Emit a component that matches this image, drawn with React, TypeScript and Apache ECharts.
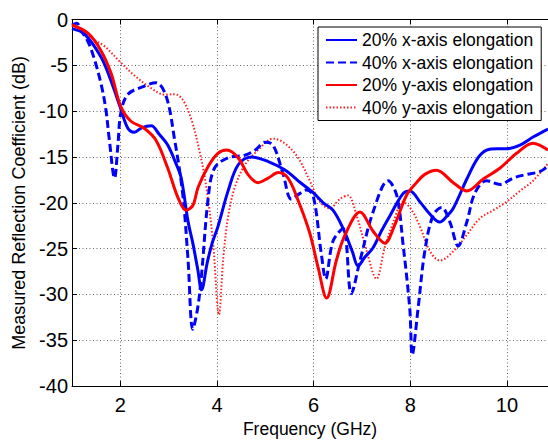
import React, { useEffect, useRef } from "react";
import * as echarts from "echarts";

const xTicks = [2, 4, 6, 8, 10];
const legendNames = [
  "20% x-axis elongation",
  "40% x-axis elongation",
  "20% y-axis elongation",
  "40% y-axis elongation",
];

const fA = [1.0, 1.26, 1.6, 1.8, 2.0, 2.15, 2.29, 2.45, 2.64, 2.8, 2.98, 3.15, 3.26, 3.4, 3.5, 3.6, 3.68, 3.8, 3.9, 4.02, 4.23, 4.44, 4.71, 5.06, 5.4, 5.68, 5.99, 6.2, 6.4, 6.61, 6.8, 6.92, 7.05, 7.23, 7.4, 7.58, 7.85, 7.99, 8.2, 8.4, 8.61, 8.75, 8.89, 9.17, 9.4, 9.58, 9.8, 9.99, 10.27, 10.55, 10.85];
const vA = [-1.0, -1.6, -4.1, -6.6, -9.6, -11.8, -12.3, -11.8, -11.6, -12.5, -13.7, -15.7, -17.3, -22.0, -24.4, -27.2, -29.5, -26.5, -24.4, -22.6, -18.7, -15.85, -15.0, -15.5, -16.4, -17.6, -18.9, -20.0, -20.8, -22.8, -25.3, -26.9, -26.0, -24.9, -23.1, -21.4, -19.0, -18.7, -19.9, -21.2, -22.1, -21.5, -20.6, -17.4, -15.1, -14.25, -14.1, -14.1, -13.7, -12.8, -11.95];

const fB = [1.0, 1.1, 1.2, 1.33, 1.45, 1.6, 1.7, 1.77, 1.88, 1.95, 2.01, 2.15, 2.43, 2.74, 2.95, 3.12, 3.29, 3.4, 3.5, 3.6, 3.68, 3.82, 3.95, 4.23, 4.58, 4.8, 4.99, 5.16, 5.37, 5.54, 5.71, 5.85, 5.99, 6.16, 6.25, 6.4, 6.61, 6.78, 6.96, 7.23, 7.54, 7.72, 7.85, 7.99, 8.04, 8.16, 8.3, 8.47, 8.65, 8.82, 8.99, 9.17, 9.34, 9.58, 9.86, 10.13, 10.41, 10.68, 10.85];
const vB = [-0.6, -0.4, -1.3, -2.4, -4.1, -7.0, -9.8, -13.0, -17.3, -13.7, -10.2, -8.2, -7.4, -6.9, -8.4, -13.0, -19.0, -26.1, -33.8, -31.5, -27.9, -19.4, -16.2, -15.1, -14.8, -14.2, -13.4, -13.7, -16.9, -19.6, -19.0, -18.6, -19.2, -25.6, -28.3, -24.2, -22.8, -29.9, -26.3, -21.0, -17.6, -19.2, -24.5, -31.6, -36.6, -31.6, -25.3, -21.4, -20.5, -22.1, -24.7, -22.1, -18.9, -17.6, -18.0, -17.3, -16.9, -16.6, -16.0];

const fC = [1.0, 1.33, 1.6, 1.81, 2.01, 2.22, 2.5, 2.74, 2.98, 3.19, 3.36, 3.5, 3.61, 3.82, 4.02, 4.2, 4.44, 4.64, 4.85, 5.06, 5.27, 5.47, 5.68, 5.92, 6.09, 6.27, 6.47, 6.65, 6.96, 7.23, 7.47, 7.68, 7.92, 8.13, 8.3, 8.54, 8.89, 9.17, 9.51, 9.86, 10.2, 10.54, 10.85];
const vC = [-0.6, -1.5, -3.4, -5.9, -9.5, -11.1, -11.9, -13.2, -16.2, -19.4, -20.8, -20.3, -18.3, -16.0, -14.6, -14.25, -15.1, -16.9, -17.8, -17.3, -16.7, -17.3, -19.75, -23.3, -27.0, -30.4, -26.3, -23.5, -21.0, -23.1, -24.4, -22.4, -19.2, -17.8, -16.9, -16.45, -17.8, -18.7, -17.4, -16.2, -14.6, -13.5, -14.25];

const fD = [1.0, 1.2, 1.45, 1.67, 2.01, 2.29, 2.64, 2.91, 3.12, 3.29, 3.47, 3.64, 3.78, 3.92, 4.04, 4.13, 4.23, 4.37, 4.58, 4.85, 5.16, 5.4, 5.68, 5.92, 6.13, 6.33, 6.54, 6.71, 6.89, 7.1, 7.3, 7.47, 7.65, 7.85, 8.03, 8.2, 8.41, 8.61, 8.89, 9.17, 9.44, 9.72, 9.99, 10.27, 10.54, 10.85];
const vD = [-0.5, -1.2, -2.2, -2.9, -4.7, -6.1, -7.5, -8.2, -8.15, -8.75, -10.9, -14.4, -18.3, -24.4, -32.2, -26.1, -21.5, -18.3, -15.85, -14.25, -13.0, -13.5, -15.1, -17.6, -19.9, -20.6, -19.6, -19.2, -21.4, -25.3, -28.3, -24.9, -22.1, -19.9, -20.8, -22.6, -25.3, -26.3, -25.3, -23.5, -21.7, -20.8, -19.9, -18.7, -17.6, -15.7];

const pairs = (f: number[], v: number[]) => f.map((x, i) => [x, v[i]]);

const FONT = "Liberation Sans, Arial, sans-serif";
const GRID = { type: [1, 2.5] as any, color: "#666", width: 1 };

export default function App() {
  const ref = useRef<HTMLDivElement>(null);
  useEffect(() => {
    const chart = echarts.init(ref.current!, null, { renderer: "svg" });
    const mk = (name: string, f: number[], v: number[], color: string, width: number, type: any, z: number) => ({
      name,
      type: "line",
      data: pairs(f, v),
      showSymbol: false,
      symbol: "none",
      smooth: 0.35,
      z,
      lineStyle: { color, width, type },
      itemStyle: { color },
    });
    chart.setOption({
      animation: false,
      backgroundColor: "#fff",
      textStyle: { fontFamily: FONT },
      grid: { left: 72, top: 19.5, width: 476, height: 375.5, show: false },
      legend: {
        orient: "vertical",
        left: 318,
        top: 27,
        width: 221,
        padding: [3, 8, 3, 7],
        backgroundColor: "#fff",
        borderColor: "#000",
        borderWidth: 1,
        itemWidth: 31,
        itemHeight: 14,
        itemGap: 2.5,
        itemStyle: { opacity: 0 },
        textStyle: { fontSize: 17.5, color: "#000", fontFamily: FONT, lineHeight: 20 },
        data: legendNames,
      },
      xAxis: [
        {
          type: "value",
          min: 1,
          max: 10.85,
          name: "Frequency (GHz)",
          nameLocation: "middle",
          nameGap: 29,
          nameTextStyle: { fontSize: 17.5, color: "#000", fontFamily: FONT },
          axisLine: { show: true, onZero: false, lineStyle: { color: "#000", width: 1 } },
          axisTick: { show: true, inside: true, length: 5, customValues: xTicks, lineStyle: { color: "#000" } },
          axisLabel: { show: true, customValues: xTicks, fontSize: 20, color: "#000", margin: 9, fontFamily: FONT },
          splitLine: { show: true, lineStyle: GRID },
        },
        {
          type: "value",
          position: "top",
          min: 1,
          max: 10.85,
          axisLine: { show: true, onZero: false, lineStyle: { color: "#000", width: 1 } },
          axisTick: { show: true, inside: true, length: 5, customValues: xTicks, lineStyle: { color: "#000" } },
          axisLabel: { show: false },
          splitLine: { show: false },
        },
      ],
      yAxis: {
        type: "value",
        min: -40,
        max: 0,
        interval: 5,
        name: "Measured Reflection Coefficient (dB)",
        nameLocation: "middle",
        nameGap: 41,
        nameTextStyle: { fontSize: 18, color: "#000", fontFamily: FONT },
        axisLine: { show: true, onZero: false, lineStyle: { color: "#000", width: 1 } },
        axisTick: { show: true, inside: true, length: 5, lineStyle: { color: "#000" } },
        axisLabel: { fontSize: 20, color: "#000", margin: 4, fontFamily: FONT },
        splitLine: { show: true, lineStyle: GRID },
      },
      series: [
        mk(legendNames[3], fD, vD, "#ff2020", 2, [1.5, 2], 2),
        mk(legendNames[0], fA, vA, "#0000ff", 3, "solid", 3),
        mk(legendNames[1], fB, vB, "#0000ff", 3, [8, 4], 4),
        mk(legendNames[2], fC, vC, "#ff0000", 3, "solid", 5),
      ],
    });
    return () => chart.dispose();
  }, []);
  return <div ref={ref} style={{ position: "fixed", left: 0, top: 0, width: 548, height: 443 }} />;
}
